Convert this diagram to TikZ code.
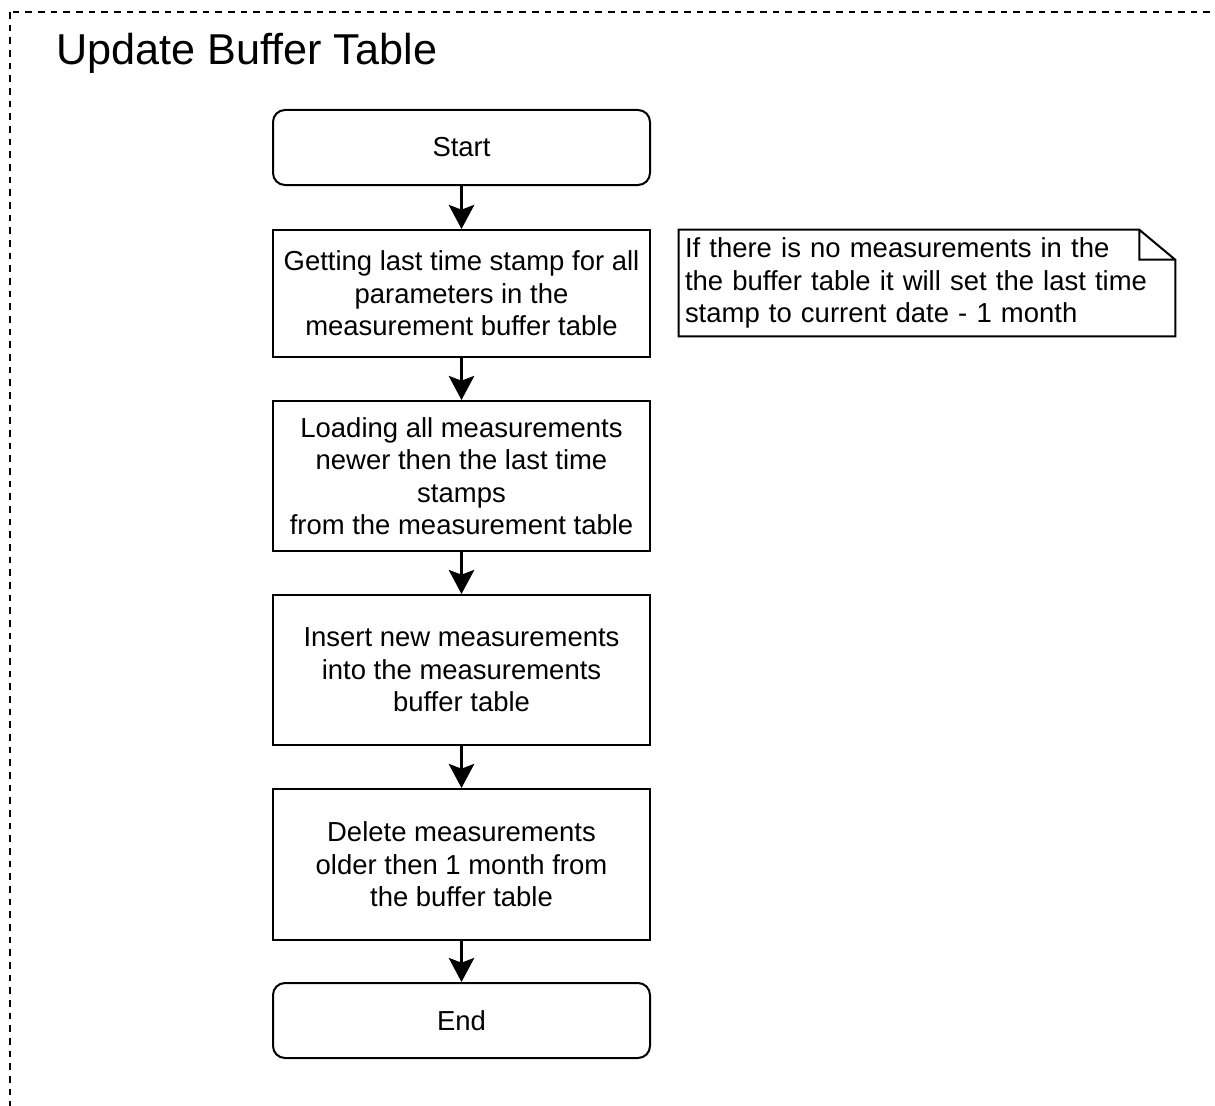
\documentclass[tikz,border=0pt]{standalone}
\usepackage{fontspec}
\setmainfont{Liberation Sans}
\usetikzlibrary{arrows.meta,calc}

\begin{document}
\begin{tikzpicture}[x=0.75pt,y=-0.75pt,
  boxfont/.style={font=\fontsize{20.6}{24.4}\selectfont},
  stepbox/.style={draw, line width=1.5pt, boxfont, align=center,
    minimum width=282.75pt, inner sep=0pt},
  termbox/.style={stepbox, rounded corners=9pt},
  flow/.style={line width=2.4pt,
    -{Stealth[length=18pt,width=19pt,inset=3.5pt]}},
  frame/.style={line width=1.5pt, dash pattern=on 5pt off 4.5pt}]

  \useasboundingbox (0,0) rectangle (1215,1106);
  \clip (0,0) rectangle (1215,1106);

  % dashed container
  \draw[frame] (10,12) rectangle (1240,1130);
  \node[anchor=base west, inner sep=0pt,
    font=\fontsize{32.4}{38}\selectfont] (title) at (56,65) {Update Buffer Table};

  % flow steps
  \node[termbox, minimum height=56.25pt] (start) at (461.5,147.5) {Start};
  \node[stepbox, minimum height=95.25pt] (last) at (461.5,293.5)
    {Getting last time stamp for all\\parameters in the\\measurement buffer table};
  \node[stepbox, minimum height=112.5pt] (load) at (461.5,476)
    {Loading all measurements\\newer then the last time\\stamps\\from the measurement table};
  \node[stepbox, minimum height=112.5pt] (insert) at (461.5,670)
    {Insert new measurements\\into the measurements\\buffer table};
  \node[stepbox, minimum height=113.25pt] (delete) at (461.5,864.5)
    {Delete measurements\\older then 1 month from\\the buffer table};
  \node[termbox, minimum height=56.25pt] (end) at (461.5,1020.5) {End};

  \draw[flow] (start) -- (last);
  \draw[flow] (last) -- (load);
  \draw[flow] (load) -- (insert);
  \draw[flow] (insert) -- (delete);
  \draw[flow] (delete) -- (end);

  % note with folded corner
  \node[boxfont, align=left, text width=363pt, inner xsep=4.5pt,
    minimum width=372pt, minimum height=79.5pt] (note) at (927,283)
    {If there is no measurements in the\\the buffer table it will set the last time\\stamp to current date - 1 month};
  \draw[line width=1.5pt, line join=miter]
    (note.north west) -- ($(note.north east)+(-36,0)$)
    -- ($(note.north east)+(0,30)$) -- (note.south east)
    -- (note.south west) -- cycle
    ($(note.north east)+(-36,0)$) -- ($(note.north east)+(-36,30)$)
    -- ($(note.north east)+(0,30)$);
\end{tikzpicture}
\end{document}
